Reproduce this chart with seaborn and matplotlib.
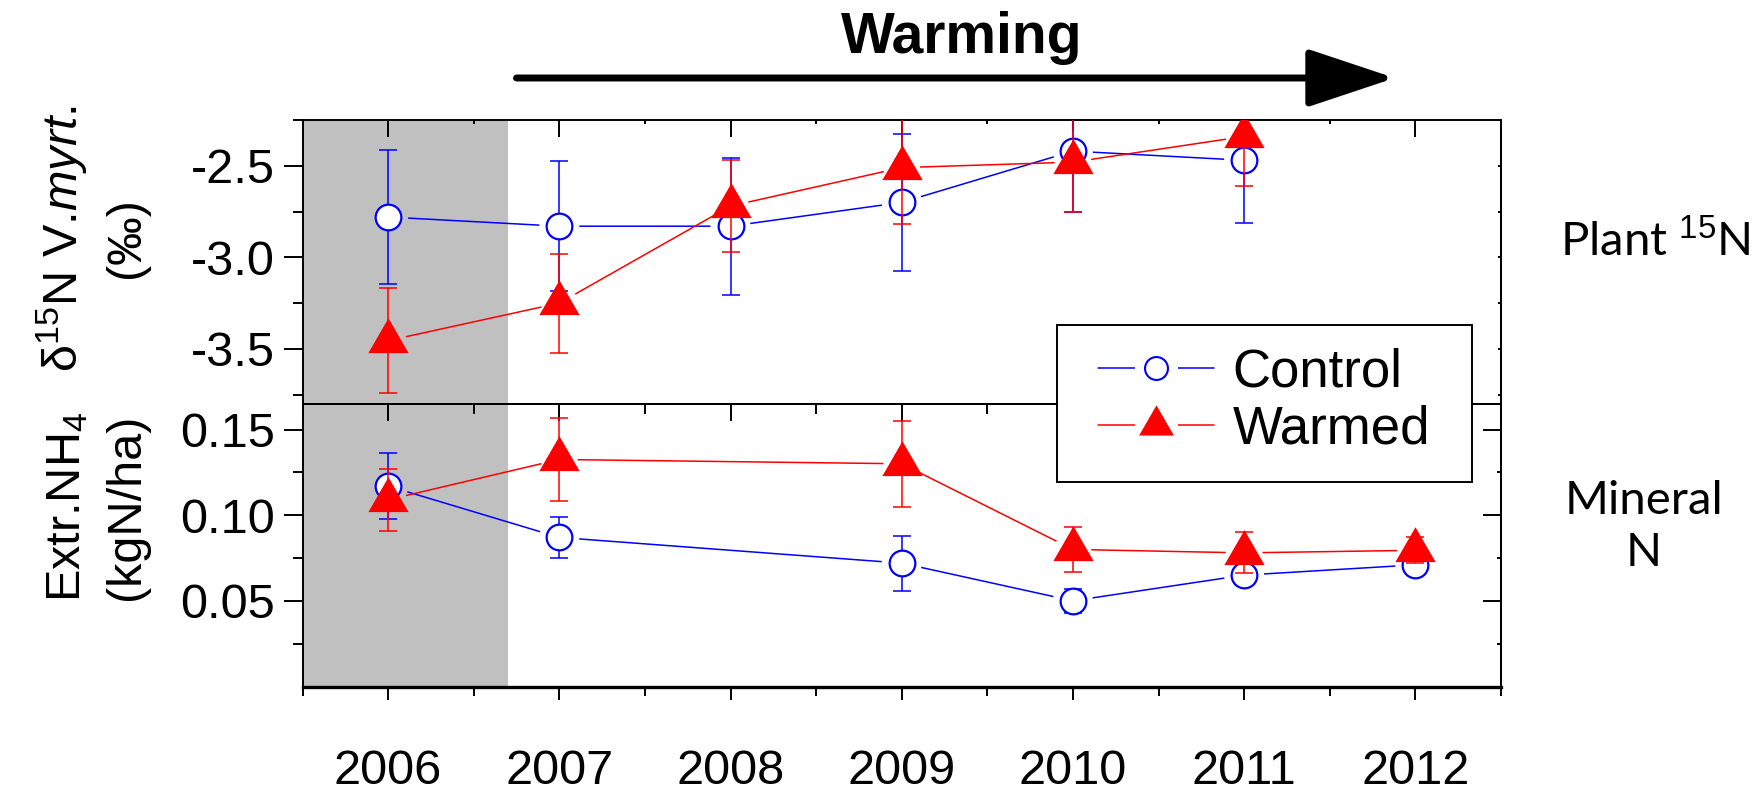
import numpy as np
import pandas as pd
import matplotlib
matplotlib.use('Agg')
import matplotlib.pyplot as plt
import matplotlib.ticker as mticker
import matplotlib.patches as mpatches
from matplotlib.lines import Line2D
from matplotlib.legend_handler import HandlerTuple
import seaborn as sns

# ── data ─────────────────────────────────────────────────────
# upper panel: d15N of V. myrtillus leaves (permil)
plant_years   = [2006, 2007, 2008, 2009, 2010, 2011]
plant_ctrl    = [-2.78, -2.83, -2.83, -2.70, -2.42, -2.47]
plant_ctrl_se = [0.365, 0.355, 0.375, 0.375, 0.33, 0.34]
plant_warm    = [-3.455, -3.25, -2.72, -2.51, -2.48, -2.34]
plant_warm_se = [0.285, 0.27, 0.25, 0.31, 0.27, 0.27]

# lower panel: extractable NH4 (kgN/ha)
nh4_years   = [2006, 2007, 2009, 2010, 2011, 2012]
nh4_ctrl    = [0.117, 0.087, 0.072, 0.050, 0.065, 0.071]
nh4_ctrl_se = [0.019, 0.012, 0.016, 0.007, 0.006, 0.004]
nh4_warm    = [0.109, 0.1325, 0.130, 0.080, 0.078, 0.0795]
nh4_warm_se = [0.018, 0.024, 0.025, 0.013, 0.012, 0.0075]

series_names = ['Control', 'Warmed']

BLUE  = '#0000FF'
RED   = '#FF0000'
SHADE = '#C0C0C0'
X_LIM = (2005.5, 2012.5)
PRE_END = 2006.7          # end of pre-treatment (grey) period
TRI = [(-1, -0.577), (1, -0.577), (0, 1.155)]   # triangle centred on its centroid

sns.set_style('ticks')
plt.rcParams.update({
    'font.family': ['Liberation Sans', 'DejaVu Sans'],
    'mathtext.fontset': 'custom',
    'mathtext.rm': 'Liberation Sans',
    'mathtext.it': 'Liberation Sans:italic',
    'mathtext.bf': 'Liberation Sans:bold',
    'axes.linewidth': 1.4,
    'axes.edgecolor': 'black',
    'text.color': 'black',
    'axes.labelcolor': 'black',
    'xtick.color': 'black',
    'ytick.color': 'black',
})

W, H = 1757, 792
fig = plt.figure(figsize=(W / 100, H / 100), dpi=100)
ax1 = fig.add_axes([302.5 / W, 1 - 403.8 / H, 1198.4 / W, 283.8 / H])
ax2 = fig.add_axes([302.5 / W, 1 - 686.5 / H, 1198.4 / W, 282.7 / H])


def draw_panel(ax, years, ctrl, ctrl_se, warm, warm_se):
    df = pd.DataFrame({'year': years, 'Control': ctrl, 'Warmed': warm})
    ax.axvspan(X_LIM[0], PRE_END, color=SHADE, lw=0, zorder=0)
    sns.lineplot(data=df, x='year', y='Control', color=BLUE, lw=1.1,
                 errorbar=None, legend=False, ax=ax, zorder=1)
    sns.lineplot(data=df, x='year', y='Warmed', color=RED, lw=1.1,
                 errorbar=None, legend=False, ax=ax, zorder=1)
    # background-coloured halos give the Origin-style gap between line and symbol
    bg = [SHADE if y < PRE_END else 'white' for y in years]
    ax.scatter(years, ctrl, s=830, c=bg, marker='o', lw=0, zorder=2)
    ax.scatter(years, warm, s=700, c=bg, marker='o', lw=0, zorder=2)
    ax.errorbar(years, ctrl, yerr=ctrl_se, fmt='none', ecolor=BLUE,
                elinewidth=1.1, capsize=6.8, capthick=1.1, zorder=3)
    ax.plot(years, ctrl, ls='none', marker='o', ms=18.5, mfc='white',
            mec=BLUE, mew=1.6, zorder=4)
    ax.errorbar(years, warm, yerr=warm_se, fmt='none', ecolor=RED,
                elinewidth=1.1, capsize=6.8, capthick=1.1, zorder=5)
    ax.plot(years, warm, ls='none', marker=TRI, ms=33.5, mfc=RED,
            mec=RED, mew=0, zorder=6)
    ax.set_xlabel('')
    ax.set_ylabel('')
    ax.set_xlim(*X_LIM)
    ax.xaxis.set_major_locator(mticker.MultipleLocator(1))
    ax.xaxis.set_minor_locator(mticker.MultipleLocator(0.5))


draw_panel(ax1, plant_years, plant_ctrl, plant_ctrl_se, plant_warm, plant_warm_se)
draw_panel(ax2, nh4_years, nh4_ctrl, nh4_ctrl_se, nh4_warm, nh4_warm_se)

# ── y axes ────────────────────────────────────────────────────
ax1.set_ylim(-3.8, -2.25)
ax1.yaxis.set_major_locator(mticker.MultipleLocator(0.5))
ax1.yaxis.set_minor_locator(mticker.MultipleLocator(0.25))
ax1.yaxis.set_major_formatter(mticker.FormatStrFormatter('%.1f'))

ax2.set_ylim(0, 0.165)
ax2.yaxis.set_major_locator(mticker.FixedLocator([0.05, 0.10, 0.15]))
ax2.yaxis.set_minor_locator(mticker.FixedLocator([0.025, 0.075, 0.125]))
ax2.yaxis.set_major_formatter(mticker.FormatStrFormatter('%.2f'))

for ax in (ax1, ax2):
    ax.tick_params(axis='y', which='both', direction='out', left=True, right=False,
                   labelsize=35, pad=6.5, width=1.4, color='black')
    ax.tick_params(axis='y', which='major', length=13.4)
    ax.tick_params(axis='y', which='minor', length=7)
    for s in ax.spines.values():
        s.set_visible(True)
        s.set_color('black')
        s.set_linewidth(1.4)

# right-hand inward ticks
r1 = ax1.secondary_yaxis('right')
r1.yaxis.set_major_locator(mticker.MultipleLocator(0.5))
r1.yaxis.set_minor_locator(mticker.MultipleLocator(0.25))
r1.tick_params(axis='y', which='both', direction='in', labelright=False,
               length=2.5, width=1.4)
r2 = ax2.secondary_yaxis('right')
r2.yaxis.set_major_locator(mticker.FixedLocator([0.05, 0.10, 0.15]))
r2.yaxis.set_minor_locator(mticker.FixedLocator([0.025, 0.075, 0.125]))
r2.tick_params(axis='y', which='both', direction='in', labelright=False, width=1.4)
r2.tick_params(axis='y', which='major', length=13)
r2.tick_params(axis='y', which='minor', length=3)

# ── x axes ────────────────────────────────────────────────────
ax1.tick_params(axis='x', which='both', direction='in', top=True, bottom=False,
                labelbottom=False, labeltop=False, width=1.4)
ax1.tick_params(axis='x', which='major', length=12.2)
ax1.tick_params(axis='x', which='minor', length=3)

ax2.tick_params(axis='x', which='both', direction='out', top=False, bottom=True,
                labelsize=35, pad=36, width=1.4)
ax2.tick_params(axis='x', which='major', length=9)
ax2.tick_params(axis='x', which='minor', length=6.5)
ax2.xaxis.set_major_formatter(mticker.FormatStrFormatter('%d'))
ax2.spines['bottom'].set_linewidth(2.4)

t2 = ax2.secondary_xaxis('top')
t2.xaxis.set_major_locator(mticker.MultipleLocator(1))
t2.xaxis.set_minor_locator(mticker.MultipleLocator(0.5))
t2.tick_params(axis='x', which='both', direction='in', labeltop=False, width=1.4)
t2.tick_params(axis='x', which='major', length=12.2)
t2.tick_params(axis='x', which='minor', length=7.2)

# ── labels ────────────────────────────────────────────────────
ax1.set_ylabel('δ$^{15}$N V.$\\mathit{myrt.}$\n(‰)', fontsize=35, linespacing=1.4)
ax1.yaxis.set_label_coords(-0.128, 0.584)
ax2.set_ylabel('Extr.NH$_4$\n(kgN/ha)', fontsize=35, linespacing=1.4)
ax2.yaxis.set_label_coords(-0.128, 0.635)

fig.text(1559.5 / W, 1 - 256 / H, 'Plant $^{15}$N', family='Lato', fontsize=34,
         ha='left', va='baseline')
fig.text(1644 / W, 1 - 527 / H, 'Mineral\nN', family='Lato', fontsize=34,
         ha='center', va='center', linespacing=1.3)

# warming arrow above the upper panel
xt = ax1.get_xaxis_transform()
ax1.text(2009.35, 1.236, 'Warming', transform=xt, ha='center', va='baseline',
         fontsize=41, fontweight='bold', clip_on=False)
ax1.annotate('', xy=(2011.88, 1.148), xytext=(2006.75, 1.148), xycoords=xt,
             textcoords=xt, annotation_clip=False,
             arrowprops=dict(arrowstyle='-|>,head_length=2.7,head_width=0.9',
                             mutation_scale=20, lw=5, color='black',
                             shrinkA=0, shrinkB=0))

# ── legend (boxed, straddling both panels) ───────────────────
box = mpatches.Rectangle((1057 / W, 1 - 482 / H), 415 / W, 157 / H,
                         transform=fig.transFigure, facecolor='white',
                         edgecolor='black', lw=1.4, zorder=4)
fig.patches.append(box)
h_ctrl = (Line2D([], [], color=BLUE, lw=1.1),
          Line2D([], [], ls='none', marker='o', ms=30, mfc='white', mec='white'),
          Line2D([], [], ls='none', marker='o', ms=16.5, mfc='white', mec=BLUE, mew=1.5))
h_warm = (Line2D([], [], color=RED, lw=1.1),
          Line2D([], [], ls='none', marker='o', ms=30, mfc='white', mec='white'),
          Line2D([], [], ls='none', marker=TRI, ms=29, mfc=RED, mec=RED, mew=0))
leg = fig.legend([h_ctrl, h_warm], series_names,
                 handler_map={tuple: HandlerTuple(ndivide=1, pad=0)},
                 loc='center left', bbox_to_anchor=(1098 / W, 1 - 401 / H),
                 frameon=False, fontsize=38, borderpad=0, borderaxespad=0,
                 handlelength=2.2, handletextpad=0.35, labelspacing=0.15)
leg.set_zorder(5)

plt.savefig('out.png', dpi=100)
plt.close()
